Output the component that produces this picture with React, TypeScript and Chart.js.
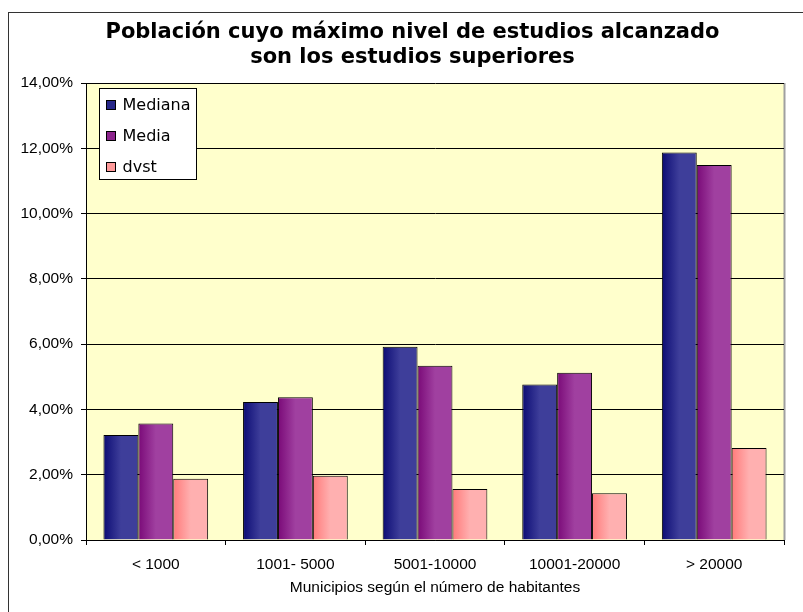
import React, { useEffect, useRef } from "react";
import { Chart, registerables } from "chart.js";

Chart.register(...registerables);

const categories = ["< 1000", "1001- 5000", "5001-10000", "10001-20000", "> 20000"];
const medianaValues = [3.22, 4.23, 5.92, 4.76, 11.87];
const mediaValues = [3.57, 4.37, 5.34, 5.12, 11.49];
const dvstValues = [1.88, 1.97, 1.56, 1.43, 2.82];
const seriesLabels = ["Mediana", "Media", "dvst"];
const titleLines = ["Población cuyo máximo nivel de estudios alcanzado", "son los estudios superiores"];
const xAxisTitle = "Municipios según el número de habitantes";
const yMin = 0;
const yMax = 14;
const yStep = 2;

const gradientStops: [string, string][] = [
  ["#0c0c74", "#3e3e9a"],
  ["#7a0a78", "#a040a0"],
  ["#ff7a7a", "#ffb0b0"],
];
const legendColors = ["#262688", "#8c248c", "#ff9a9a"];

const TICK_FONT = "'Liberation Sans', Arial, sans-serif";
const TITLE_FONT = "'DejaVu Sans', Verdana, sans-serif";

const decorPlugin = {
  id: "decor",
  beforeDraw(chart: any) {
    const { ctx, chartArea } = chart;
    ctx.save();
    ctx.fillStyle = "#ffffff";
    ctx.fillRect(0, 0, chart.width, chart.height);
    ctx.strokeStyle = "#333333";
    ctx.lineWidth = 1;
    ctx.strokeRect(8.5, 12.5, 2000, 2000);
    ctx.fillStyle = "#ffffcc";
    ctx.fillRect(chartArea.left, chartArea.top, chartArea.right - chartArea.left, chartArea.bottom - chartArea.top);
    ctx.strokeStyle = "#a0a0a0";
    ctx.lineWidth = 2;
    ctx.beginPath();
    ctx.moveTo(chartArea.right + 0.5, chartArea.top);
    ctx.lineTo(chartArea.right + 0.5, chartArea.bottom);
    ctx.stroke();
    ctx.fillStyle = "#000000";
    ctx.font = `bold 21px ${TITLE_FONT}`;
    ctx.textAlign = "center";
    ctx.textBaseline = "middle";
    ctx.fillText(titleLines[0], 412.5, 33);
    ctx.fillText(titleLines[1], 412.5, 58);
    ctx.restore();
  },
  beforeDatasetsDraw(chart: any) {
    const { ctx } = chart;
    chart.data.datasets.forEach((ds: any, di: number) => {
      const meta = chart.getDatasetMeta(di);
      meta.data.forEach((el: any) => {
        const { x, width } = el.getProps(["x", "width"], true);
        const left = x - width / 2;
        const g = ctx.createLinearGradient(left, 0, left + width, 0);
        g.addColorStop(0, gradientStops[di][0]);
        g.addColorStop(0.5, gradientStops[di][1]);
        g.addColorStop(1, gradientStops[di][1]);
        el.options = { ...el.options, backgroundColor: g };
      });
    });
  },
  afterDraw(chart: any) {
    const { ctx } = chart;
    ctx.save();
    const bx = 99.5, by = 88.5, bw = 97, bh = 91;
    ctx.fillStyle = "#ffffff";
    ctx.fillRect(bx, by, bw, bh);
    ctx.strokeStyle = "#000000";
    ctx.lineWidth = 1;
    ctx.strokeRect(bx, by, bw, bh);
    const rows = [105, 136, 167];
    ctx.font = `16px ${TITLE_FONT}`;
    ctx.textAlign = "left";
    ctx.textBaseline = "middle";
    chart.data.datasets.forEach((ds: any, i: number) => {
      const cy = rows[i];
      ctx.fillStyle = legendColors[i];
      ctx.fillRect(106.5, cy - 4.5, 9, 9);
      ctx.strokeStyle = "#000000";
      ctx.strokeRect(106.5, cy - 4.5, 9, 9);
      ctx.fillStyle = "#000000";
      ctx.fillText(ds.label, 122.5, cy + 1);
    });
    ctx.restore();
  },
};

export default function App() {
  const ref = useRef<HTMLCanvasElement | null>(null);
  useEffect(() => {
    if (!ref.current) return;
    const chart = new Chart(ref.current, {
      type: "bar",
      data: {
        labels: categories,
        datasets: [
          { label: seriesLabels[0], data: medianaValues },
          { label: seriesLabels[1], data: mediaValues },
          { label: seriesLabels[2], data: dvstValues },
        ].map((d) => ({
          ...d,
          borderColor: "#000000",
          borderWidth: 1,
          categoryPercentage: 0.75,
          barPercentage: 1.0,
          borderSkipped: "bottom",
        })),
      },
      options: {
        animation: false,
        responsive: false,
        devicePixelRatio: 1,
        layout: { padding: { left: 0, right: 19, top: 83, bottom: 0 } },
        plugins: {
          legend: { display: false },
          title: { display: false },
          tooltip: { enabled: false },
        },
        scales: {
          x: {
            grid: {
              display: true,
              drawOnChartArea: false,
              drawTicks: true,
              tickLength: 5,
              color: "#000000",
              offset: true,
            },
            border: { display: true, color: "#000000", width: 1 },
            ticks: {
              color: "#000000",
              font: { family: TICK_FONT, size: 15.5 },
              padding: 10,
              maxRotation: 0,
            },
            title: {
              display: true,
              text: xAxisTitle,
              color: "#000000",
              font: { family: TICK_FONT, size: 15.5 },
              padding: { top: 0, bottom: 15 },
            },
            afterFit(scale: any) {
              scale.height = 72;
            },
          },
          y: {
            min: yMin,
            max: yMax,
            grid: {
              color: "#000000",
              drawTicks: true,
              tickLength: 5,
            },
            border: { display: true, color: "#000000", width: 1 },
            ticks: {
              stepSize: yStep,
              color: "#000000",
              font: { family: TICK_FONT, size: 15.5 },
              padding: 8,
              callback: (v: any) => Number(v).toFixed(2).replace(".", ",") + "%",
            },
            afterFit(scale: any) {
              scale.width = 86;
            },
          },
        },
      },
      plugins: [decorPlugin],
    } as any);
    return () => chart.destroy();
  }, []);
  return (
    <div style={{ position: "absolute", left: 0, top: 0, width: 803, height: 612 }}>
      <canvas ref={ref} width={803} height={612} />
    </div>
  );
}
